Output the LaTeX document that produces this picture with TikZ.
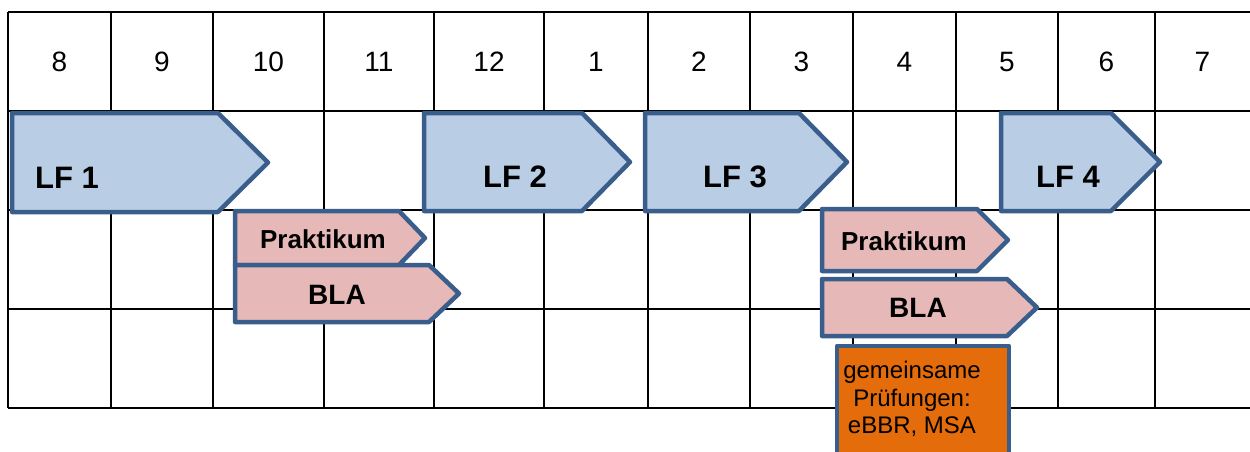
\documentclass[tikz,border=0pt]{standalone}
\usepackage{fontspec}
\setmainfont{Liberation Sans}
\definecolor{lfblue}{HTML}{B9CDE5}
\definecolor{edgeblue}{HTML}{3A5E8C}
\definecolor{pinkfill}{HTML}{E6B9B8}
\definecolor{orangefill}{HTML}{E46C0A}
\newcommand\pentshape[6]{%
  % #1 style, #2 left, #3 top, #4 bottom, #5 arrow start, #6 tip
  \draw[#1] (#2,#3) -- (#5,#3) -- (#6,{(#3+#4)/2}) -- (#5,#4) -- (#2,#4) -- cycle;}
\begin{document}
\begin{tikzpicture}[x=1pt,y=-1pt,
  gridline/.style={line width=2pt,black},
  lfshape/.style={fill=lfblue,draw=edgeblue,line width=4.5pt,line join=round},
  pkshape/.style={fill=pinkfill,draw=edgeblue,line width=4.5pt,line join=round},
  exshape/.style={fill=orangefill,draw=edgeblue,line width=4.5pt,line join=round},
  numlabel/.style={font=\fontsize{28}{30}\selectfont,inner sep=0pt},
  lflabel/.style={font=\fontsize{31}{33}\selectfont\bfseries,inner sep=0pt},
  pklabel/.style={font=\fontsize{26}{28}\selectfont\bfseries,inner sep=0pt},
  blalabel/.style={font=\fontsize{28}{30}\selectfont\bfseries,inner sep=0pt},
  exlabel/.style={font=\fontsize{24}{27.5}\selectfont,align=center,inner sep=0pt}]
\useasboundingbox (0,0) rectangle (1250,451);
\clip (0,0) rectangle (1250,451);
% grid
\foreach \yy in {12,110.5,210,309,408} \draw[gridline] (8,\yy) -- (1250,\yy);
\foreach \xx in {8,111,213,324,434,544,648,750,853,956,1058,1155} \draw[gridline] (\xx,12) -- (\xx,408);
% month numbers
\foreach \cx/\t [count=\i] in {59.5/8,162/9,268.5/10,379/11,489/12,596/1,699/2,801.5/3,904.5/4,1007/5,1106.5/6,1202.5/7}
  \node[numlabel] (m\i) at (\cx,62) {\t};
% LF shapes
\pentshape{lfshape}{12}{113}{212}{218}{268}
\node[lflabel] (lf1) at (67,178) {LF 1};
\pentshape{lfshape}{424}{113}{211}{582}{630}
\node[lflabel] (lf2) at (515,177) {LF 2};
\pentshape{lfshape}{645}{113}{211}{799}{847}
\node[lflabel] (lf3) at (735,177) {LF 3};
\pentshape{lfshape}{1001}{113}{211}{1111}{1160}
\node[lflabel] (lf4) at (1068,177) {LF 4};
% first Praktikum / BLA
\pentshape{pkshape}{235}{211}{265}{399}{425}
\node[pklabel] (pk1) at (323,239) {Praktikum};
\pentshape{pkshape}{235}{265}{322}{429}{459}
\node[blalabel] (bla1) at (337,295) {BLA};
% second Praktikum / BLA
\pentshape{pkshape}{822}{209}{271}{977}{1008}
\node[pklabel] (pk2) at (904,241) {Praktikum};
\pentshape{pkshape}{822}{279}{336}{1007}{1037}
\node[blalabel] (bla2) at (918,308) {BLA};
% exam box
\draw[exshape] (837,346) rectangle (1009,470);
\node[exlabel] (ex) at (912,399) {gemeinsame\\Prüfungen:\\eBBR, MSA};
\end{tikzpicture}
\end{document}
